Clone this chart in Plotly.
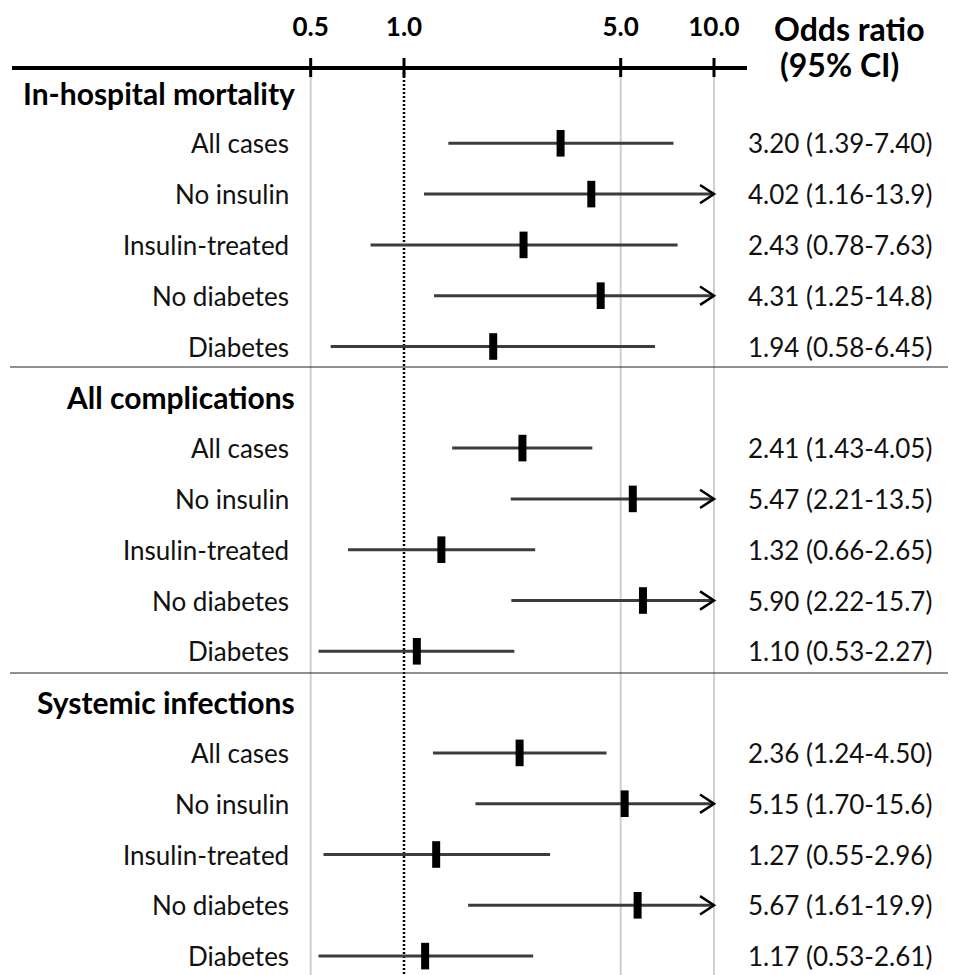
import plotly.graph_objects as go

# ---------------- data ----------------
groups = ["In-hospital mortality", "All complications", "Systemic infections"]
subgroups = ["All cases", "No insulin", "Insulin-treated", "No diabetes", "Diabetes"]

or_mortality = [3.20, 4.02, 2.43, 4.31, 1.94]
lo_mortality = [1.39, 1.16, 0.78, 1.25, 0.58]
hi_mortality = [7.40, 13.9, 7.63, 14.8, 6.45]

or_complications = [2.41, 5.47, 1.32, 5.90, 1.10]
lo_complications = [1.43, 2.21, 0.66, 2.22, 0.53]
hi_complications = [4.05, 13.5, 2.65, 15.7, 2.27]

or_infections = [2.36, 5.15, 1.27, 5.67, 1.17]
lo_infections = [1.24, 1.70, 0.55, 1.61, 0.53]
hi_infections = [4.50, 15.6, 2.96, 19.9, 2.61]

tick_values = [0.5, 1.0, 5.0, 10.0]
tick_labels = ["0.5", "1.0", "5.0", "10.0"]
axis_max = 10.0

# ---------------- style / layout ----------------
PAGE_W, PAGE_H = 956, 975
OFF = 8                              # default page body margin
W, H = PAGE_W - OFF, PAGE_H - OFF
FONT = "Lato"
X1_PX, DEC_PX = 404.0, 310.0         # page px of OR=1 and px per decade
X_LOG_RANGE = [(OFF - X1_PX) / DEC_PX, (PAGE_W - X1_PX) / DEC_PX]
ROW0_PX, ROW_PX = 92.5, 50.8         # first row centre and row spacing (page px)
Y_RANGE = [(PAGE_H - ROW0_PX) / ROW_PX, (OFF - ROW0_PX) / ROW_PX]
ARROW_DX = 0.045                     # decades
ARROW_DY = 0.18                      # rows


def px_x(p):
    return (p - OFF) / W


def row_y(p):
    return (p - ROW0_PX) / ROW_PX


AXIS_ROW = row_y(68)

fig = go.Figure()

series = [
    (or_mortality, lo_mortality, hi_mortality),
    (or_complications, lo_complications, hi_complications),
    (or_infections, lo_infections, hi_infections),
]

# vertical reference lines
bottom_row = Y_RANGE[0]
for v in [0.5, 5.0, 10.0]:
    fig.add_trace(go.Scatter(x=[v, v], y=[AXIS_ROW, bottom_row], mode="lines",
                             line=dict(color="#cfcfcf", width=2), hoverinfo="skip",
                             showlegend=False))
fig.add_trace(go.Scatter(x=[1.0, 1.0], y=[AXIS_ROW, bottom_row], mode="lines",
                         line=dict(color="black", width=2.5, dash="2px,2px"), hoverinfo="skip",
                         showlegend=False))

annotations = []
row = 0
ci_x, ci_y = [], []
pt_x, pt_y = [], []
ar_x, ar_y = [], []
for gi, g in enumerate(groups):
    annotations.append(dict(x=px_x(297), y=row, xref="paper", yref="y", text="<b>%s</b>" % g,
                            showarrow=False, xanchor="right", yanchor="middle",
                            font=dict(family=FONT, size=30, color="black")))
    row += 1
    ors, los, his = series[gi]
    for si, s in enumerate(subgroups):
        o, lo, hi = ors[si], los[si], his[si]
        end = min(hi, axis_max)
        ci_x += [lo, end, None]
        ci_y += [row, row, None]
        pt_x.append(o)
        pt_y.append(row)
        if hi > axis_max:
            ar_x += [axis_max * 10 ** (-ARROW_DX), axis_max, axis_max * 10 ** (-ARROW_DX), None]
            ar_y += [row - ARROW_DY, row, row + ARROW_DY, None]
        annotations.append(dict(x=px_x(291), y=row, xref="paper", yref="y", text=s,
                                showarrow=False, xanchor="right", yanchor="middle",
                                font=dict(family=FONT, size=26, color="#111")))
        hi_txt = ("%.1f" % hi) if hi >= 10 else ("%.2f" % hi)
        annotations.append(dict(x=px_x(746), y=row, xref="paper", yref="y",
                                text="%.2f (%.2f-%s)" % (o, lo, hi_txt),
                                showarrow=False, xanchor="left", yanchor="middle",
                                font=dict(family=FONT, size=26, color="#111")))
        row += 1

fig.add_trace(go.Scatter(x=ci_x, y=ci_y, mode="lines", line=dict(color="#3c3c3c", width=3),
                         hoverinfo="skip", showlegend=False))
fig.add_trace(go.Scatter(x=ar_x, y=ar_y, mode="lines", line=dict(color="black", width=2.5),
                         hoverinfo="skip", showlegend=False))
fig.add_trace(go.Scatter(x=pt_x, y=pt_y, mode="markers",
                         marker=dict(symbol="line-ns", size=19, line=dict(color="black", width=8)),
                         hoverinfo="skip", showlegend=False))

# top axis ticks
tx, ty = [], []
for v in tick_values:
    tx += [v, v, None]
    ty += [row_y(58), row_y(77), None]
fig.add_trace(go.Scatter(x=tx, y=ty, mode="lines", line=dict(color="black", width=3),
                         hoverinfo="skip", showlegend=False))
fig.add_trace(go.Scatter(x=tick_values, y=[row_y(29)] * len(tick_values), mode="text",
                         text=["<b>%s</b>" % t for t in tick_labels],
                         textfont=dict(family=FONT, size=26, color="black"),
                         hoverinfo="skip", showlegend=False))

annotations.append(dict(x=px_x(849), y=row_y(28), xref="paper", yref="y", text="<b>Odds ratio</b>",
                        showarrow=False, xanchor="center", yanchor="middle",
                        font=dict(family=FONT, size=32, color="black")))
annotations.append(dict(x=px_x(839), y=row_y(64), xref="paper", yref="y", text="<b>(95% CI)</b>",
                        showarrow=False, xanchor="center", yanchor="middle",
                        font=dict(family=FONT, size=32, color="black")))

shapes = [
    dict(type="line", xref="paper", yref="y", x0=px_x(12), x1=px_x(747), y0=AXIS_ROW, y1=AXIS_ROW,
         line=dict(color="black", width=4)),
    dict(type="line", xref="paper", yref="y", x0=px_x(10), x1=1, y0=row_y(367), y1=row_y(367),
         line=dict(color="#222", width=1)),
    dict(type="line", xref="paper", yref="y", x0=px_x(10), x1=1, y0=row_y(673), y1=row_y(673),
         line=dict(color="#222", width=1)),
]

fig.update_layout(
    width=W, height=H, margin=dict(l=0, r=0, t=0, b=0),
    paper_bgcolor="white", plot_bgcolor="white",
    xaxis=dict(type="log", range=X_LOG_RANGE, visible=False, fixedrange=True),
    yaxis=dict(range=Y_RANGE, visible=False, fixedrange=True),
    annotations=annotations, shapes=shapes, showlegend=False,
)

fig.write_html("out.html")
